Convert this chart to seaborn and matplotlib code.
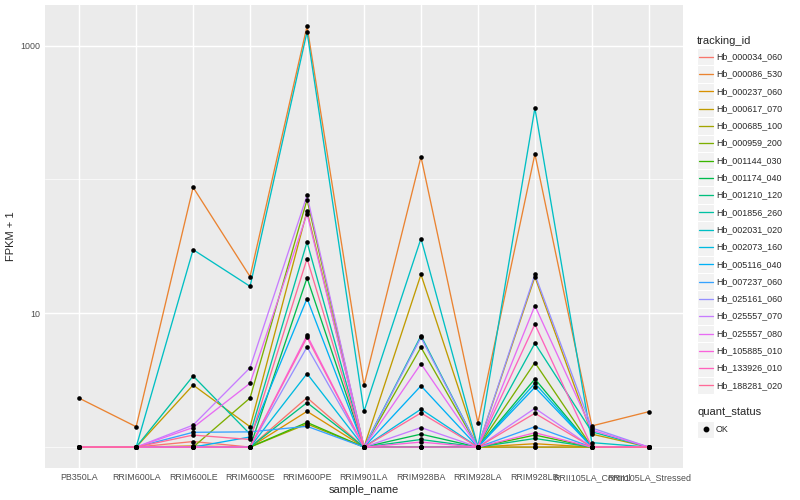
import numpy as np
import pandas as pd
import matplotlib
matplotlib.use('Agg')
import matplotlib.pyplot as plt
from matplotlib.patches import Rectangle
from matplotlib.lines import Line2D
import seaborn as sns

# Proben (x-Achse)
samples = ["PB350LA", "RRIM600LA", "RRIM600LE", "RRIM600SE", "RRIM600PE",
           "RRIM901LA", "RRIM928BA", "RRIM928LA", "RRIM928LB",
           "RRII105LA_Control", "RRII105LA_Stressed"]

# Gene (Legende)
tracking_ids = ["Hb_000034_060", "Hb_000086_530", "Hb_000237_060", "Hb_000617_070",
                "Hb_000685_100", "Hb_000959_200", "Hb_001144_030", "Hb_001174_040",
                "Hb_001210_120", "Hb_001856_260", "Hb_002031_020", "Hb_002073_160",
                "Hb_005116_040", "Hb_007237_060", "Hb_025161_060", "Hb_025557_070",
                "Hb_025557_080", "Hb_105885_010", "Hb_133926_010", "Hb_188281_020"]

# FPKM + 1 (gleiche Reihenfolge wie samples)
hb_000034_060 = [1, 1, 1.10, 1, 2.34, 1, 1, 1, 1, 1, 1]
hb_000086_530 = [2.32, 1.42, 87.4, 18.8, 1400, 2.90, 148, 1.52, 155, 1.44, 1.84]
hb_000237_060 = [1, 1, 1.02, 1, 1.85, 1, 1, 1, 1.06, 1, 1]
hb_000617_070 = [1, 1, 2.91, 1.42, 58, 1, 19.5, 1, 18.7, 1.25, 1]
hb_000685_100 = [1, 1, 1, 1, 1.49, 1, 1, 1, 1, 1, 1]
hb_000959_200 = [1, 1, 1, 2.33, 70.6, 1, 5.57, 1, 4.28, 1, 1]
hb_001144_030 = [1, 1, 1, 1, 1.53, 1, 1, 1, 1.23, 1, 1]
hb_001174_040 = [1, 1, 1, 1, 18.4, 1, 1.25, 1, 3.23, 1, 1]
hb_001210_120 = [1, 1, 1, 1, 2.15, 1, 1.14, 1, 1.16, 1, 1]
hb_001856_260 = [1, 1, 3.40, 1.25, 34.1, 1, 6.8, 1, 5.97, 1.30, 1]
hb_002031_020 = [1, 1, 29.9, 15.9, 1270, 1.85, 36.2, 1, 342, 1.08, 1]
hb_002073_160 = [1, 1, 1, 1, 3.54, 1, 1.92, 1, 3.0, 1, 1]
hb_005116_040 = [1, 1, 1, 1.19, 12.9, 1, 2.87, 1, 2.8, 1, 1]
hb_007237_060 = [1, 1, 1.29, 1.30, 1.43, 1, 1, 1, 1.42, 1, 1]
hb_025161_060 = [1, 1, 1, 1, 5.6, 1, 6.6, 1, 19.5, 1.39, 1]
hb_025557_070 = [1, 1, 1.46, 3.92, 76, 1, 1.40, 1, 1.95, 1, 1]
hb_025557_080 = [1, 1, 1.40, 3.0, 55.5, 1, 4.2, 1, 11.4, 1.34, 1]
hb_105885_010 = [1, 1, 1, 1, 6.85, 1, 1.09, 1, 1.28, 1, 1]
hb_133926_010 = [1, 1, 1, 1, 6.6, 1, 1, 1, 8.28, 1, 1]
hb_188281_020 = [1, 1, 1.23, 1.14, 25.6, 1, 1.80, 1, 1.79, 1, 1]

series = [hb_000034_060, hb_000086_530, hb_000237_060, hb_000617_070, hb_000685_100,
          hb_000959_200, hb_001144_030, hb_001174_040, hb_001210_120, hb_001856_260,
          hb_002031_020, hb_002073_160, hb_005116_040, hb_007237_060, hb_025161_060,
          hb_025557_070, hb_025557_080, hb_105885_010, hb_133926_010, hb_188281_020]

rows = []
for tid, vals in zip(tracking_ids, series):
    for s, v in zip(samples, vals):
        rows.append({'tracking_id': tid, 'sample_name': s, 'fpkm1': v, 'quant_status': 'OK'})
df = pd.DataFrame(rows)


# ggplot2 hue_pal() nachbauen (HCL, l=65, c=100)
def hcl_to_hex(h, c=100, l=65):
    xn, yn, zn = 95.047, 100.0, 108.883
    un = 4 * xn / (xn + 15 * yn + 3 * zn)
    vn = 9 * yn / (xn + 15 * yn + 3 * zn)
    u = c * np.cos(np.radians(h))
    v = c * np.sin(np.radians(h))
    y = yn * ((l + 16) / 116) ** 3 if l > 8 else yn * l / 903.3
    up = u / (13 * l) + un
    vp = v / (13 * l) + vn
    x = 9 * y * up / (4 * vp)
    z = -x / 3 - 5 * y + 3 * y / vp
    xyz = np.array([x, y, z]) / 100
    m = np.array([[3.2404542, -1.5371385, -0.4985314],
                  [-0.9692660, 1.8760108, 0.0415560],
                  [0.0556434, -0.2040259, 1.0572252]])
    rgb = m @ xyz
    rgb = np.where(rgb <= 0.0031308, 12.92 * rgb, 1.055 * np.power(np.clip(rgb, 0, None), 1 / 2.4) - 0.055)
    rgb = np.clip(rgb, 0, 1)
    return matplotlib.colors.to_hex(rgb)


n = len(tracking_ids)
colors = [hcl_to_hex(15 + 360 * i / n) for i in range(n)]
palette = dict(zip(tracking_ids, colors))

sns.set_style('white')
plt.rcParams['font.family'] = ['Liberation Sans', 'DejaVu Sans']

W, H = 800, 500
fig = plt.figure(figsize=(8, 5), dpi=100)
ax = fig.add_axes([45 / W, 1 - 468 / H, (683 - 45) / W, (468 - 5) / H])
ax.set_facecolor('#EBEBEB')

sns.lineplot(data=df, x='sample_name', y='fpkm1', hue='tracking_id', palette=palette,
             estimator=None, sort=False, legend=False, linewidth=0.95, ax=ax, zorder=3)
sns.scatterplot(data=df, x='sample_name', y='fpkm1', color='black', s=11,
                linewidth=0, legend=False, ax=ax, zorder=4)

ax.set_yscale('log')
ax.set_ylim(0.698, 2014)
ax.set_xlim(-0.6, len(samples) - 0.4)
ax.set_yticks([10, 1000])
ax.set_yticklabels(['10', '1000'])
ax.set_yticks([1, 100], minor=True)
ax.yaxis.set_minor_formatter(matplotlib.ticker.NullFormatter())
ax.set_xticks(range(len(samples)))
ax.set_xticklabels(samples)

ax.grid(True, which='major', color='white', linewidth=1.05, zorder=1)
ax.grid(True, which='minor', axis='y', color='white', linewidth=0.5, zorder=1)
ax.set_axisbelow(True)
for sp in ax.spines.values():
    sp.set_visible(False)
ax.tick_params(which='major', length=2.0, width=0.8, color='#333333',
               labelsize=6.4, labelcolor='#4D4D4D', pad=1.5)
ax.tick_params(which='minor', length=0)
ax.set_xlabel('sample_name', fontsize=8, labelpad=2)
ax.set_ylabel('FPKM + 1', fontsize=8, labelpad=3)


# Legende im ggplot-Stil
def fx(px):
    return px / W


def fy(py):
    return 1 - py / H


key_x0, key_w, key_h = 697, 17, 17.3
fig.text(fx(697), fy(40.7), 'tracking_id', fontsize=8, va='center', ha='left')
for i, tid in enumerate(tracking_ids):
    yc = 56.7 + 17.3 * i
    fig.patches.append(Rectangle((fx(key_x0), fy(yc + key_h / 2)), key_w / W, key_h / H,
                                 transform=fig.transFigure, facecolor='#F2F2F2',
                                 edgecolor='white', linewidth=0.8))
    fig.lines.append(Line2D([fx(key_x0 + 1.5), fx(key_x0 + key_w - 1.5)], [fy(yc), fy(yc)],
                            transform=fig.transFigure, color=palette[tid], linewidth=0.95))
    fig.text(fx(716), fy(yc), tid, fontsize=6.4, va='center', ha='left')

fig.text(fx(697), fy(412.3), 'quant_status', fontsize=8, va='center', ha='left')
fig.patches.append(Rectangle((fx(key_x0), fy(429.3 + key_h / 2)), key_w / W, key_h / H,
                             transform=fig.transFigure, facecolor='#F2F2F2',
                             edgecolor='white', linewidth=0.8))
fig.lines.append(Line2D([fx(key_x0 + key_w / 2)], [fy(429.3)], transform=fig.transFigure,
                        marker='o', color='black', markersize=3.2, linestyle='none'))
fig.text(fx(716), fy(429.3), 'OK', fontsize=6.4, va='center', ha='left')

fig.savefig('out.png', dpi=100, facecolor='white')
